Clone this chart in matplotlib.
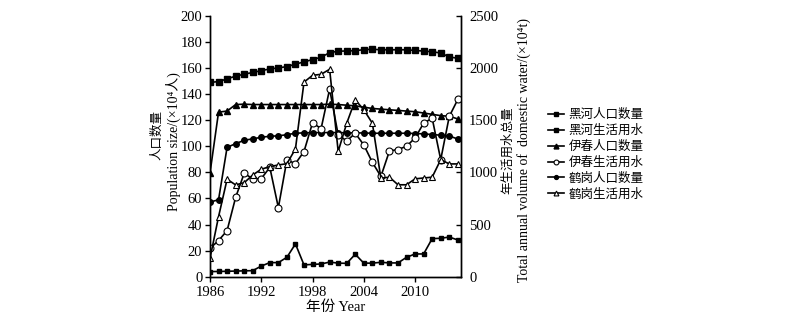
import matplotlib
matplotlib.use("Agg")
import matplotlib.pyplot as plt
import numpy as np

plt.rcParams['font.family'] = ['Liberation Serif', 'Noto Sans CJK SC']

years = list(range(1986, 2016))

# population, 10^4 persons (left axis)
heihe_pop = [149, 149.6, 151.7, 153.8, 155.3, 156.6, 158, 159.3, 160.1, 161.1,
             163, 164.7, 166.5, 168.3, 171.8, 172.9, 173.1, 173.3, 174.1, 174.4,
             174, 174, 174, 174, 173.5, 173, 172.5, 171.5, 168.5, 167.5]
yichun_pop = [79.5, 126.2, 127, 132, 132.3, 132, 132, 132, 132, 132,
              132, 132, 132, 132, 132.3, 132, 131.5, 131, 130, 129,
              128.5, 128, 127.5, 127, 126.5, 125.5, 124.5, 123.5, 123, 121]
hegang_pop = [57.2, 59, 99.2, 102, 104.6, 105.7, 106.9, 107.7, 108, 108.9,
              110, 110.3, 110.5, 110.5, 110.5, 110.5, 110.3, 110.3, 110.2, 110,
              110, 110, 110, 110, 109.8, 109.5, 109, 108.5, 108, 105.5]

# domestic water, 10^4 t (right axis)
heihe_water = [49, 50, 52, 54, 56, 58, 102, 135, 135, 186,
               314, 113, 118, 122, 140, 130, 128, 215, 130, 130,
               138, 132, 132, 186, 218, 218, 365, 368, 380, 352]
yichun_water = [272, 346, 442, 760, 991, 938, 940, 1048, 662, 1119,
                1084, 1200, 1475, 1419, 1798, 1359, 1301, 1375, 1263, 1096,
                961, 1205, 1219, 1250, 1330, 1471, 1519, 1122, 1536, 1699]
hegang_water = [176, 575, 934, 880, 901, 975, 1030, 1055, 1071, 1083,
                1225, 1865, 1930, 1940, 1988, 1201, 1471, 1695, 1600, 1471,
                944, 954, 881, 881, 938, 946, 954, 1122, 1081, 1081]

labels = ['黑河人口数量', '黑河生活用水', '伊春人口数量',
          '伊春生活用水', '鹤岗人口数量', '鹤岗生活用水']

W, H = 800, 324
fig = plt.figure(figsize=(8, 3.24), dpi=100)
ax = fig.add_axes([0.2625, 0.146, 0.3135, 0.805])
ax2 = ax.twinx()

lw = 1.2
kw = dict(color='black', linewidth=lw)
l1, = ax.plot(years, heihe_pop, marker='s', markersize=4.5, **kw)
l2, = ax2.plot(years, heihe_water, marker='s', markersize=3.2, **kw)
l3, = ax.plot(years, yichun_pop, marker='^', markersize=5, **kw)
l4, = ax2.plot(years, yichun_water, marker='o', markersize=5, markerfacecolor='white',
               markeredgewidth=0.8, **kw)
l5, = ax.plot(years, hegang_pop, marker='o', markersize=4, **kw)
l6, = ax2.plot(years, hegang_water, marker='^', markersize=5, markerfacecolor='white',
               markeredgewidth=0.8, **kw)

ax.set_xlim(1986, 2015.35)
ax.set_ylim(0, 200)
ax2.set_ylim(0, 2500)
ax.set_xticks([1986, 1992, 1998, 2004, 2010])
ax.set_yticks(range(0, 201, 20))
ax2.set_yticks(range(0, 2501, 500))

for a in (ax, ax2):
    a.spines['top'].set_visible(False)
    for s in a.spines.values():
        s.set_linewidth(1.0)
    a.tick_params(labelsize=10.5, length=3.5, width=1.0)
ax.tick_params(axis='x', direction='out', pad=3)
ax.tick_params(axis='y', direction='out', pad=2)
ax2.tick_params(axis='y', direction='in', pad=6)

# axis titles: Chinese and English lines placed separately
fig.text(157 / W, 1 - 135 / H, '人口数量', rotation=90, ha='center', va='center',
         fontsize=9)
fig.text(173 / W, 1 - 142 / H, 'Population size/(×10⁴人)', rotation=90,
         ha='center', va='center', fontsize=10)
fig.text(508 / W, 1 - 150 / H, '年生活用水总量', rotation=90, ha='center',
         va='center', fontsize=9)
fig.text(524 / W, 1 - 150 / H, 'Total annual volume of  domestic water/(×10⁴t)',
         rotation=90, ha='center', va='center', fontsize=10)
ax.set_xlabel('年份 Year', fontsize=10.5, labelpad=1)

fig.legend([l1, l2, l3, l4, l5, l6], labels, loc='upper left',
           bbox_to_anchor=(0.674, 0.69), frameon=False, fontsize=9,
           handlelength=1.25, handletextpad=0.4, labelspacing=0.3,
           markerscale=0.7, borderpad=0.2)

fig.savefig('out.png', dpi=100)
